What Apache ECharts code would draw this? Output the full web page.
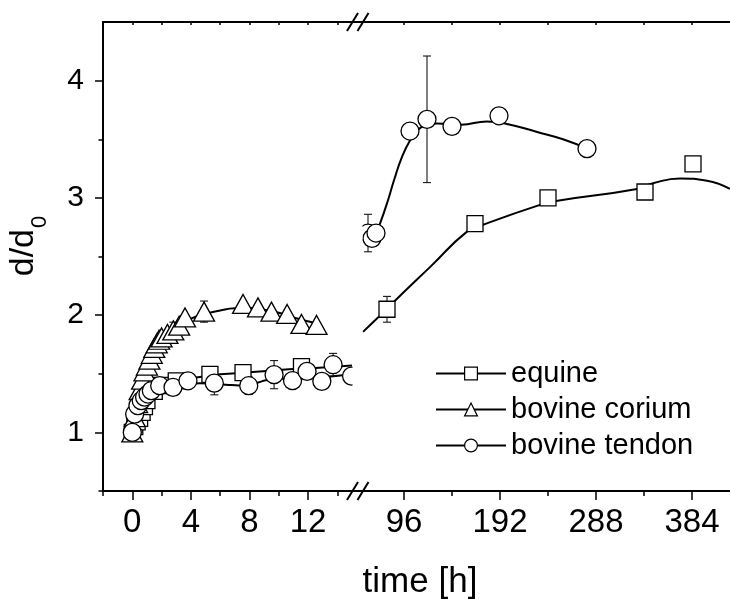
<!DOCTYPE html>
<html>
<head>
<meta charset="utf-8">
<script src="https://cdn.jsdelivr.net/npm/echarts@6/dist/echarts.min.js"></script>
<style>
html, body { margin: 0; padding: 0; background: #fff; }
#chart { width: 730px; height: 603px; }
</style>
</head>
<body>
<div id="chart"></div>
<script>
// Swelling ratio d/d0 of three collagen sources over time.
// Early phase (0-15 h) and late phase (55-422 h) are drawn on two x-axis segments.

const seriesNames = ['equine', 'bovine corium', 'bovine tendon'];

// measured points [time h, d/d0]
const equineEarly = [[0,1.0],[0.17,1.05],[0.33,1.09],[0.5,1.12],[0.67,1.17],[0.83,1.22],[1.0,1.27],[1.5,1.35],[2.0,1.40],[3.0,1.44],[5.3,1.495],[7.56,1.51],[11.55,1.56]];
const equineLate = [[79,2.05],[167,2.78],[240,3.0],[337,3.05],[385,3.29]];
const coriumEarly = [[0,1.0],[0.17,1.13],[0.33,1.25],[0.5,1.36],[0.67,1.45],[0.83,1.52],[1.0,1.57],[1.17,1.62],[1.33,1.67],[1.5,1.72],[1.67,1.76],[1.83,1.79],[2.0,1.81],[2.4,1.84],[2.8,1.87],[3.2,1.91],[3.6,1.98],[4.9,2.03],[7.56,2.095],[8.58,2.066],[9.5,2.03],[10.57,2.01],[11.55,1.925],[12.58,1.916]];
const tendonEarly = [[0,1.0],[0.16,1.156],[0.38,1.228],[0.61,1.27],[0.84,1.30],[1.07,1.327],[1.3,1.356],[1.87,1.398],[2.78,1.384],[3.8,1.44],[5.6,1.42],[7.95,1.398],[9.68,1.492],[10.94,1.441],[11.93,1.52],[12.94,1.435],[13.71,1.577],[14.97,1.48]];
const tendonLate = [[60,2.70],[64,2.655],[68,2.70],[102,3.57],[119,3.67],[144,3.61],[191,3.70],[279,3.42]];

// standard deviations [time h, +/- d/d0]
const equineErrEarly = [[5.3,0.04],[7.56,0.05],[11.55,0.06]];
const equineErrLate = [[79,0.11],[240,0.03]];
const coriumErrEarly = [[2.8,0.07],[4.9,0.09]];
const tendonErrEarly = [[5.6,0.1],[7.95,0.075],[9.68,0.12],[11.93,0.05],[13.71,0.097]];
const tendonErrLate = [[60,0.16],[119,0.54]];

// smoothed trend curves [time h, d/d0]
const equineFitEarly = [[0,1.0],[0.5,1.15],[1,1.26],[1.5,1.33],[2,1.38],[3,1.43],[4,1.46],[5,1.48],[6,1.495],[8,1.512],[10,1.532],[12.5,1.55],[15,1.57]];
const coriumFitEarly = [[0,1.0],[0.5,1.33],[1,1.55],[1.5,1.70],[2,1.79],[3,1.9],[4,1.97],[5,2.012],[6,2.04],[7,2.058],[8,2.06],[9,2.045],[10,2.02],[11,1.98],[12.58,1.93]];
const tendonFitEarly = [[0,1.0],[0.5,1.17],[1,1.27],[1.5,1.33],[2,1.36],[3,1.39],[4.6,1.418],[6.4,1.407],[7.3,1.40],[8.6,1.426],[9.2,1.447],[11,1.46],[13.4,1.475],[15,1.50]];
const equineFitLate = [[55,1.857],[70,1.98],[79,2.052],[87,2.123],[123,2.418],[159,2.712],[175,2.771],[232,2.94],[248,2.974],[329,3.076],[345,3.124],[372,3.166],[399,3.147],[422,3.076]];
const tendonFitLate = [[68,2.70],[72,2.78],[80,2.98],[86,3.15],[94,3.35],[102,3.49],[110,3.58],[120,3.625],[129,3.635],[153,3.624],[179,3.652],[199,3.63],[230,3.56],[255,3.50],[279,3.42]];

// axis ticks and labels
const earlyLabels = [0, 4, 8, 12];
const earlyMinor = [-2, 2, 6, 10, 14];
const earlyTop = [-2, 0, 2, 4, 6, 8, 10, 12, 14];
const lateLabels = [96, 192, 288, 384];
const lateMinor = [144, 240, 336];
const lateTop = [96, 144, 192, 240, 288, 336, 384];
const yLabels = [1, 2, 3, 4];
const yMinor = [0.5, 1.5, 2.5, 3.5];

const FONT = '"Liberation Sans", Arial, Helvetica, sans-serif';
const BLACK = '#000';
const axisLineStyle = { color: BLACK, width: 2 };
const tickStyle = { color: BLACK, width: 1.5 };

function xAxisPair(grid, min, max, labels, minor, top) {
  return [
    { gridIndex: grid, type: 'value', min, max, position: 'bottom',
      axisLine: { show: true, onZero: false, lineStyle: axisLineStyle },
      axisTick: { show: true, customValues: labels, length: 9, lineStyle: tickStyle },
      axisLabel: { show: true, customValues: labels, fontSize: 33, margin: 15, color: BLACK, fontFamily: FONT },
      splitLine: { show: false } },
    { gridIndex: grid, type: 'value', min, max, position: 'bottom',
      axisLine: { show: false, onZero: false },
      axisTick: { show: true, customValues: minor, length: 5, lineStyle: tickStyle },
      axisLabel: { show: false }, splitLine: { show: false } },
    { gridIndex: grid, type: 'value', min, max, position: 'top',
      axisLine: { show: true, onZero: false, lineStyle: axisLineStyle },
      axisTick: { show: true, inside: true, customValues: top, length: 3, lineStyle: tickStyle },
      axisLabel: { show: false }, splitLine: { show: false } }
  ];
}

const xAxes = [].concat(
  xAxisPair(0, -2, 15, earlyLabels, earlyMinor, earlyTop),
  xAxisPair(1, 55, 422, lateLabels, lateMinor, lateTop)
);

const yAxes = [
  { gridIndex: 0, type: 'value', min: 0.5, max: 4.5, position: 'left',
    axisLine: { show: true, onZero: false, lineStyle: axisLineStyle },
    axisTick: { show: true, customValues: yLabels, length: 8, lineStyle: tickStyle },
    axisLabel: { show: true, customValues: yLabels, fontSize: 30, margin: 19, color: BLACK, fontFamily: FONT },
    splitLine: { show: false } },
  { gridIndex: 0, type: 'value', min: 0.5, max: 4.5, position: 'left',
    axisLine: { show: false, onZero: false },
    axisTick: { show: true, customValues: yMinor, length: 4.5, lineStyle: tickStyle },
    axisLabel: { show: false }, splitLine: { show: false } },
  { gridIndex: 1, type: 'value', min: 0.5, max: 4.5, show: false, axisLine: { onZero: false } }
];

const markerStyle = { color: '#fff', borderColor: BLACK, borderWidth: 1.3 };

function fitSeries(name, data, xi, yi) {
  return { name: name + ' fit', type: 'line', xAxisIndex: xi, yAxisIndex: yi, data,
    smooth: 0.5, showSymbol: false, symbol: 'none', silent: true,
    lineStyle: { color: BLACK, width: 2 } };
}

function markerSeries(name, data, xi, yi, symbol, size) {
  return { name, type: 'line', xAxisIndex: xi, yAxisIndex: yi, data,
    symbol, symbolSize: size, showSymbol: true, showAllSymbol: true,
    lineStyle: { width: 0, opacity: 0 }, itemStyle: markerStyle };
}

// error bar rows [t, low, high] built from the marker values
function errRows(points, errs) {
  return errs.map(function (e) {
    const p = points.find(function (q) { return q[0] === e[0]; });
    return [e[0], p[1] - e[1], p[1] + e[1]];
  });
}

function renderErr(params, api) {
  const t = api.value(0);
  const lo = api.coord([t, api.value(1)]);
  const hi = api.coord([t, api.value(2)]);
  const w = 4;
  const st = { stroke: BLACK, lineWidth: 1 };
  return { type: 'group', children: [
    { type: 'line', shape: { x1: lo[0], y1: lo[1], x2: hi[0], y2: hi[1] }, style: st },
    { type: 'line', shape: { x1: lo[0] - w, y1: lo[1], x2: lo[0] + w, y2: lo[1] }, style: st },
    { type: 'line', shape: { x1: hi[0] - w, y1: hi[1], x2: hi[0] + w, y2: hi[1] }, style: st }
  ] };
}

function errSeries(name, rows, xi, yi) {
  return { name: name + ' sd', type: 'custom', xAxisIndex: xi, yAxisIndex: yi, data: rows,
    renderItem: renderErr, clip: true, silent: true, encode: { x: 0, y: [1, 2] } };
}

const SQ = 16, TRI = [21, 19], CIR = 18;

const series = [
  fitSeries('equine', equineFitEarly, 0, 0),
  fitSeries('bovine corium', coriumFitEarly, 0, 0),
  fitSeries('bovine tendon', tendonFitEarly, 0, 0),
  fitSeries('equine', equineFitLate, 3, 2),
  fitSeries('bovine tendon', tendonFitLate, 3, 2),
  errSeries('bovine tendon', errRows(tendonEarly, tendonErrEarly), 0, 0),
  errSeries('bovine tendon', errRows(tendonLate, tendonErrLate), 3, 2),
  markerSeries('equine', equineEarly, 0, 0, 'rect', SQ),
  markerSeries('equine', equineLate, 3, 2, 'rect', SQ),
  errSeries('equine', errRows(equineEarly, equineErrEarly), 0, 0),
  errSeries('equine', errRows(equineLate, equineErrLate), 3, 2),
  markerSeries('bovine corium', coriumEarly, 0, 0, 'triangle', TRI),
  errSeries('bovine corium', errRows(coriumEarly, coriumErrEarly), 0, 0),
  markerSeries('bovine tendon', tendonEarly, 0, 0, 'circle', CIR),
  markerSeries('bovine tendon', tendonLate, 3, 2, 'circle', CIR)
];

// gap between the two segments: blank band, bridging axis pieces and break marks
const lineSt = { stroke: BLACK, lineWidth: 2 };
const breakMarks = [
  { type: 'rect', shape: { x: 352.5, y: 23.5, width: 10, height: 466 }, style: { fill: '#fff' }, z: 50, silent: true }
];
[22, 491].forEach(function (y) {
  breakMarks.push({ type: 'line', shape: { x1: 351, y1: y, x2: 364, y2: y }, style: lineSt, z: 60, silent: true });
  [352.5, 363].forEach(function (cx) {
    breakMarks.push({ type: 'line', shape: { x1: cx - 5.5, y1: y + 9, x2: cx + 5.5, y2: y - 9 }, style: lineSt, z: 60, silent: true });
  });
});

const chart = echarts.init(document.getElementById('chart'), null, { renderer: 'canvas' });
chart.setOption({
  animation: false,
  backgroundColor: '#fff',
  grid: [
    { left: 103, top: 22, width: 249, height: 469 },
    { left: 363, top: 22, width: 367, height: 469 }
  ],
  xAxis: xAxes,
  yAxis: yAxes,
  legend: {
    data: seriesNames, orient: 'vertical', left: 435, top: 359, padding: 0,
    itemWidth: 70, itemHeight: 16, itemGap: 7, selectedMode: false,
    textStyle: { fontSize: 29, color: BLACK, fontFamily: FONT },
    itemStyle: { color: '#fff', borderColor: BLACK, borderWidth: 1.2 },
    lineStyle: { color: BLACK, width: 2, opacity: 1 }
  },
  graphic: breakMarks.concat([
    { type: 'text', x: 420, y: 582, silent: true,
      style: { text: 'time [h]', font: '35px ' + FONT, fill: BLACK, align: 'center', verticalAlign: 'middle' } },
    { type: 'text', x: 29, y: 246, rotation: Math.PI / 2, silent: true,
      style: { text: '{a|d/d}{b|0}', align: 'center', verticalAlign: 'middle', fill: BLACK,
        rich: {
          a: { fontSize: 34, fontFamily: FONT, color: BLACK, lineHeight: 38, verticalAlign: 'top' },
          b: { fontSize: 22, fontFamily: FONT, color: BLACK, padding: [22, 0, 0, 1], verticalAlign: 'bottom' }
        } } }
  ]),
  series: series
});
</script>
</body>
</html>
